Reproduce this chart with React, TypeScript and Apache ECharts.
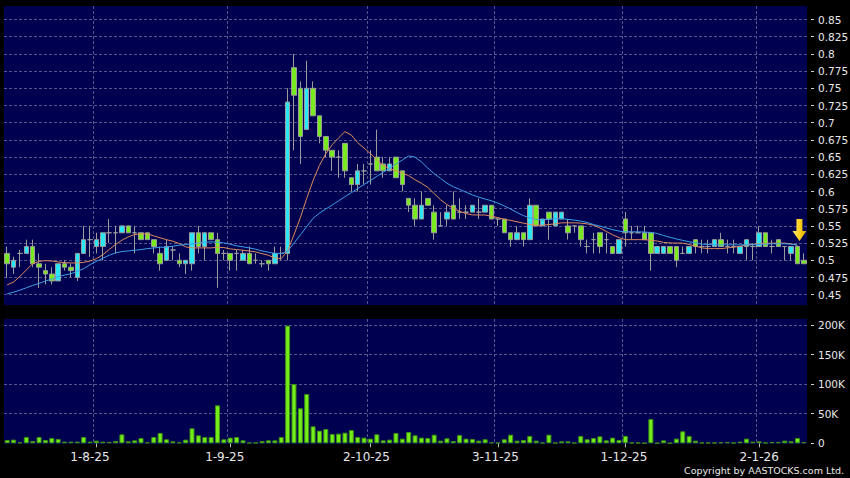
import React, { useEffect, useRef } from 'react';
import * as echarts from 'echarts';

// ---- data ----
const dates = [
  '14-7-25','15-7-25','16-7-25','17-7-25','18-7-25','21-7-25','22-7-25','23-7-25','24-7-25','25-7-25','28-7-25','29-7-25','30-7-25','31-7-25',
  '1-8-25','4-8-25','5-8-25','6-8-25','7-8-25','8-8-25','11-8-25','12-8-25','13-8-25','14-8-25','15-8-25','18-8-25','19-8-25','20-8-25','21-8-25','22-8-25','25-8-25','26-8-25','27-8-25','28-8-25','29-8-25',
  '1-9-25','2-9-25','3-9-25','4-9-25','5-9-25','8-9-25','9-9-25','10-9-25','11-9-25','12-9-25','15-9-25','16-9-25','17-9-25','18-9-25','19-9-25','22-9-25','23-9-25','24-9-25','25-9-25','26-9-25','29-9-25','30-9-25',
  '2-10-25','3-10-25','6-10-25','8-10-25','9-10-25','10-10-25','13-10-25','14-10-25','15-10-25','16-10-25','17-10-25','20-10-25','21-10-25','22-10-25','23-10-25','24-10-25','27-10-25','28-10-25','30-10-25','31-10-25',
  '3-11-25','4-11-25','5-11-25','6-11-25','7-11-25','10-11-25','11-11-25','12-11-25','13-11-25','14-11-25','17-11-25','18-11-25','19-11-25','20-11-25','21-11-25','24-11-25','25-11-25','26-11-25','27-11-25','28-11-25',
  '1-12-25','2-12-25','3-12-25','4-12-25','5-12-25','8-12-25','9-12-25','10-12-25','11-12-25','12-12-25','15-12-25','16-12-25','17-12-25','18-12-25','19-12-25','22-12-25','23-12-25','24-12-25','29-12-25','30-12-25','31-12-25',
  '2-1-26','5-1-26','6-1-26','7-1-26','8-1-26','9-1-26','12-1-26','13-1-26',
];

const open = [
  .51,.49,.51,.51,.52,.495,.485,.48,.47,.495,
  .49,.475,.51,.53,.52,.52,.54,.54,.54,.55,
  .54,.54,.54,.53,.51,.50,.515,.50,.495,.495,
  .54,.52,.54,.53,.51,.51,.51,.50,.51,.50,
  .495,.50,.495,.51,.51,.78,.75,.69,.75,.71,
  .68,.66,.65,.67,.62,.61,.63,.64,.65,.64,
  .63,.65,.63,.59,.58,.56,.59,.57,.55,.56,
  .58,.57,.57,.57,.57,.57,.58,.56,.56,.54,
  .53,.54,.53,.58,.55,.57,.55,.56,.55,.55,
  .55,.52,.53,.54,.53,.52,.51,.56,.54,.54,
  .54,.54,.51,.51,.52,.52,.51,.51,.53,.52,
  .52,.52,.53,.52,.52,.51,.52,.52,.52,.54,
  .52,.53,.52,.51,.52,.50,
];
const close = [
  .495,.50,.51,.52,.495,.49,.48,.47,.495,.49,
  .485,.51,.53,.53,.53,.54,.54,.54,.55,.54,
  .54,.53,.53,.52,.495,.52,.515,.495,.50,.54,
  .52,.54,.53,.51,.51,.50,.51,.51,.495,.50,
  .495,.495,.51,.51,.73,.74,.68,.75,.71,.68,
  .66,.65,.65,.63,.61,.63,.63,.64,.63,.63,
  .64,.62,.61,.58,.56,.58,.58,.54,.55,.57,
  .56,.57,.57,.58,.57,.58,.56,.56,.54,.53,
  .54,.53,.58,.55,.56,.56,.57,.57,.54,.55,
  .53,.52,.53,.52,.53,.51,.53,.54,.54,.54,
  .53,.51,.52,.52,.51,.50,.51,.52,.52,.52,
  .52,.53,.52,.52,.52,.52,.53,.52,.54,.52,
  .52,.52,.52,.52,.495,.495,
];
const low = [
  .475,.48,.49,.51,.49,.46,.465,.465,.47,.485,
  .475,.47,.51,.505,.51,.50,.525,.51,.54,.54,
  .51,.53,.53,.51,.485,.50,.50,.49,.48,.485,
  .51,.50,.53,.46,.50,.485,.485,.50,.495,.495,
  .49,.485,.495,.50,.50,.66,.64,.69,.71,.67,
  .65,.63,.62,.62,.60,.60,.61,.61,.63,.62,
  .63,.62,.60,.57,.55,.56,.58,.53,.55,.55,
  .56,.56,.56,.57,.56,.57,.56,.55,.54,.52,
  .53,.52,.53,.55,.55,.53,.55,.56,.53,.54,
  .52,.51,.51,.51,.51,.51,.51,.52,.53,.54,
  .53,.485,.51,.51,.51,.49,.51,.51,.51,.51,
  .51,.52,.52,.51,.51,.51,.50,.50,.52,.52,
  .51,.52,.50,.50,.495,.495,
];
const high = [
  .52,.505,.515,.53,.53,.51,.495,.49,.495,.50,
  .495,.51,.55,.55,.54,.54,.56,.55,.55,.55,
  .55,.54,.54,.53,.52,.53,.52,.51,.50,.54,
  .55,.54,.54,.54,.515,.51,.515,.515,.52,.51,
  .50,.50,.52,.52,.75,.80,.76,.79,.76,.71,
  .68,.66,.66,.67,.62,.64,.64,.66,.69,.65,
  .65,.65,.63,.59,.59,.60,.59,.58,.57,.58,
  .60,.59,.58,.58,.59,.58,.58,.56,.56,.54,
  .55,.54,.59,.58,.56,.57,.57,.57,.56,.55,
  .55,.53,.54,.54,.54,.52,.53,.57,.55,.55,
  .55,.54,.52,.52,.52,.52,.52,.52,.53,.53,
  .53,.53,.54,.53,.53,.52,.53,.525,.55,.54,
  .53,.53,.52,.52,.52,.51,
];
const ma10 = [
  .4644,.4683,.4766,.4859,.4951,.4985,.4995,.499,.4976,.4966,
  .4961,.4961,.497,.499,.5024,.508,.5156,.5229,.5292,.534,
  .5375,.5385,.5385,.5355,.5326,.530,.5278,.5243,.5195,.518,
  .518,.518,.518,.519,.5185,.5166,.5156,.5146,.5136,.5122,
  .5097,.5073,.5034,.5024,.514,.537,.562,.59,.616,.638,
  .655,.668,.678,.687,.682,.671,.663,.655,.646,.638,
  .633,.630,.627,.623,.617,.612,.606,.597,.588,.581,
  .5755,.571,.568,.566,.5658,.5658,.564,.562,.5595,.558,
  .556,.554,.552,.551,.551,.552,.553,.5545,.5545,.5545,
  .554,.553,.551,.547,.542,.537,.533,.530,.530,.530,
  .530,.529,.528,.526,.5253,.525,.525,.523,.5205,.518,
  .517,.517,.517,.518,.519,.5205,.522,.523,.524,.5245,
  .525,.525,.525,.524,.522,null,
];
const ma20 = [
  .4513,.4537,.4566,.46,.4635,.4664,.4698,.4727,.4761,.4786,
  .4805,.4839,.4878,.4937,.4985,.5029,.5073,.5107,.5127,.5136,
  .5146,.5156,.517,.518,.519,.519,.5205,.522,.5229,.5239,
  .5253,.5263,.5268,.5263,.5253,.5234,.521,.5195,.518,.5161,
  .5136,.5117,.5102,.5097,.513,.525,.537,.549,.561,.5686,
  .5745,.5804,.5864,.5924,.5982,.6042,.6102,.6161,.622,.628,
  .634,.6398,.6457,.6517,.650,.643,.634,.626,.619,.612,
  .607,.603,.599,.595,.5918,.589,.5865,.583,.579,.5745,
  .5695,.565,.5615,.5595,.559,.5595,.5605,.5605,.5595,.5584,
  .557,.555,.552,.5497,.547,.5445,.5425,.5415,.5414,.5414,
  .541,.5405,.539,.536,.5335,.531,.529,.527,.5255,.5235,
  .523,.5225,.5225,.5225,.5225,.5225,.5225,.5225,.523,.5235,
  .524,.524,.524,.5235,.522,null,
];
const volume = [
  5600,6200,1700,10700,3900,10700,5600,9000,7300,2800,
  2800,2800,10700,2800,4500,2800,2300,3900,15200,3400,
  5000,9000,1700,10700,17500,6800,3400,1700,6200,25400,
  13500,10700,10700,64200,6800,9600,10700,5000,1100,1100,
  3900,5000,5000,10700,199000,100300,59200,83400,28700,21400,
  24200,15800,16300,18000,22500,10700,9600,7900,15200,5000,
  6200,17500,7900,19200,13500,9600,9000,14600,4500,8500,
  3900,14100,7900,7300,4500,6800,1700,1100,6800,14600,
  4500,5600,12400,4500,1100,14600,1000,3400,3400,1000,
  12400,6800,9000,11800,5000,9600,5600,12400,1100,1100,
  500,41100,500,5000,500,7900,20300,12400,4500,1100,
  1100,1100,1700,2300,1100,2800,7900,2800,3400,1100,
  2300,2300,4500,3400,9000,2300,
];
const monthStarts = ['1-8-25', '1-9-25', '2-10-25', '3-11-25', '1-12-25', '2-1-26'];
const priceAxis = { min: 0.45, max: 0.85, step: 0.025 };
const volumeAxis = { min: 0, max: 200000, step: 50000 };
const arrowAt = { date: '12-1-26', price: 0.544 };
const copyright = 'Copyright by AASTOCKS.com Ltd.';

// ---- styles ----
const NAVY = '#000050';
const TEXT = '#e8e8e8';
const FONT = '"DejaVu Sans", Verdana, sans-serif';
const dashed = { show: true, lineStyle: { color: '#55558c', width: 1, type: [3, 2] as any } };
const labelNudge: Record<string, number> = {
  '1-8-25': 13, '1-9-25': 11, '2-10-25': 8, '3-11-25': 5, '1-12-25': 3, '2-1-26': 0,
};
const isMonthStart = (_i: number, v: string) => monthStarts.includes(v);

function buildOption() {
  const rich: Record<string, any> = {};
  Object.values(labelNudge).forEach((n) => {
    rich['n' + n] = { padding: [0, n, 0, 0], color: TEXT, fontSize: 12, fontFamily: FONT };
  });
  const gridBase = { left: 4, width: 803, outerBoundsMode: 'none', containLabel: false };
  const bgX = (gridIndex: number) => ({
    gridIndex, type: 'category', data: dates, boundaryGap: true,
    axisLine: { show: false }, axisTick: { show: false }, axisLabel: { show: false },
    splitLine: { ...dashed, interval: isMonthStart, showMaxLine: false },
  });
  const rightAxis = (gridIndex: number, a: any, fmt: (v: number) => string, extra: any = {}) => ({
    gridIndex, type: 'value', position: 'right', min: a.min, max: a.max, interval: a.step, offset: 4,
    axisLine: { show: false },
    axisTick: { show: true, length: 3, lineStyle: { color: '#d0d0d0' } },
    axisLabel: { color: TEXT, fontSize: 10.5, fontFamily: FONT, margin: 7, formatter: fmt },
    splitLine: { ...dashed, ...extra },
  });
  return {
    animation: false,
    backgroundColor: '#000000',
    grid: [
      { ...gridBase, top: 6, height: 299, show: true, backgroundColor: NAVY, borderWidth: 0 },
      { ...gridBase, top: 19.5, height: 275.2 },
      { ...gridBase, top: 319, height: 125, show: true, backgroundColor: NAVY, borderWidth: 0 },
      { ...gridBase, top: 325, height: 118.3 },
    ],
    xAxis: [
      bgX(0),
      { gridIndex: 1, type: 'category', data: dates, boundaryGap: true, show: false },
      bgX(2),
      {
        gridIndex: 3, type: 'category', data: dates, boundaryGap: true,
        axisLine: { show: false },
        axisTick: { show: true, interval: isMonthStart, alignWithLabel: true, length: 4, lineStyle: { color: '#bbbbbb' } },
        axisLabel: {
          interval: isMonthStart, color: TEXT, fontSize: 12, fontFamily: FONT, margin: 8,
          formatter: (v: string) => `{n${labelNudge[v] ?? 0}|${v}}`, rich,
        },
        splitLine: { show: false },
      },
    ],
    yAxis: [
      { gridIndex: 0, type: 'value', show: false, min: 0, max: 1, splitLine: { show: false } },
      rightAxis(1, priceAxis, (v: number) => String(Number(v.toFixed(3)))),
      { gridIndex: 2, type: 'value', show: false, min: 0, max: 1, splitLine: { show: false } },
      rightAxis(3, volumeAxis, (v: number) => (v === 0 ? '0' : Math.round(v / 1000) + 'K'), { showMinLine: false }),
    ],
    series: [
      {
        type: 'candlestick', xAxisIndex: 1, yAxisIndex: 1, barWidth: 5,
        data: dates.map((_, i) => [open[i], close[i], low[i], high[i]]),
        itemStyle: {
          color: '#2ae6f6', color0: '#78ea1e',
          borderColor: '#9c9c9c', borderColor0: '#9c9c9c', borderWidth: 1,
        },
        markPoint: {
          label: { show: false },
          data: [{
            coord: [arrowAt.date, arrowAt.price],
            symbol: 'path://M4 0 L10 0 L10 12 L14 12 L7 22 L0 12 L4 12 Z',
            symbolSize: [14, 22],
            symbolOffset: [2, 0],
            itemStyle: {
              color: new echarts.graphic.LinearGradient(0, 0, 1, 0, [
                { offset: 0, color: '#ffe47a' },
                { offset: 0.5, color: '#ffd21c' },
                { offset: 1, color: '#dba400' },
              ]),
            },
          }],
        },
      },
      {
        type: 'line', xAxisIndex: 1, yAxisIndex: 1, data: ma10, showSymbol: false, symbol: 'none',
        lineStyle: { color: '#de8c5a', width: 1 }, z: 3,
      },
      {
        type: 'line', xAxisIndex: 1, yAxisIndex: 1, data: ma20, showSymbol: false, symbol: 'none',
        lineStyle: { color: '#3d9fe6', width: 1 }, z: 3,
      },
      {
        type: 'bar', xAxisIndex: 3, yAxisIndex: 3, data: volume, barWidth: 5,
        itemStyle: { color: '#74ee1a', borderColor: '#3b8f12', borderWidth: 1 },
      },
    ],
    graphic: [
      {
        type: 'text', right: 6, top: 465,
        style: { text: copyright, fill: TEXT, fontSize: 9.5, fontFamily: FONT },
      },
    ],
  };
}

export default function App() {
  const ref = useRef<HTMLDivElement>(null);
  useEffect(() => {
    document.body.style.margin = '0';
    document.body.style.background = '#000';
    const chart = echarts.init(ref.current!, null, { renderer: 'svg' });
    chart.setOption(buildOption() as any);
    return () => chart.dispose();
  }, []);
  return <div ref={ref} style={{ width: 850, height: 478 }} />;
}
